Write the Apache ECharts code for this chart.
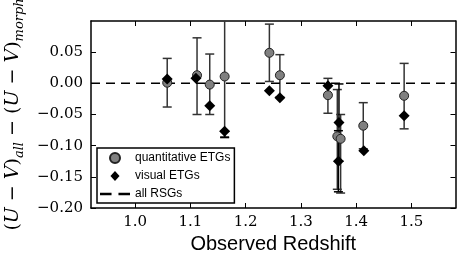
<!DOCTYPE html>
<html>
<head>
<meta charset="utf-8">
<script src="https://cdn.jsdelivr.net/npm/echarts@6/dist/echarts.min.js"></script>
<style>html,body{margin:0;padding:0;background:#fff;}#c{width:457px;height:260px;}</style>
</head>
<body>
<div id="c"></div>
<script>
// ---- data ----
const quantX  = [1.058, 1.112, 1.135, 1.162, 1.243, 1.262, 1.349, 1.366, 1.372, 1.413, 1.487];
const quantY  = [0.001, 0.013, -0.002, 0.011, 0.049, 0.013, -0.019, -0.085, -0.089, -0.068, -0.020];
const quantLo = [-0.038, -0.050, -0.050, -0.086, 0.003, -0.022, -0.048, -0.170, -0.176, -0.105, -0.073];
const quantHi = [0.040, 0.073, 0.047, 0.108, 0.095, 0.046, 0.008, -0.010, -0.050, -0.031, 0.032];

const visX  = [1.058, 1.110, 1.135, 1.162, 1.243, 1.262, 1.349, 1.369, 1.368, 1.414, 1.487];
const visY  = [0.007, 0.008, -0.036, -0.077, -0.012, -0.023, -0.004, -0.063, -0.125, -0.108, -0.052];
const visLo = [null, null, null, -0.087, null, null, null, -0.125, -0.174, null, null];
const visHi = [null, null, null, -0.077, null, null, null, -0.001, -0.076, null, null];

const rsgLevel = 0.0;
const xTicks = [1.0, 1.1, 1.2, 1.3, 1.4, 1.5];
const yTicks = [-0.20, -0.15, -0.10, -0.05, 0.00, 0.05];
const xMin = 0.92, xMax = 1.58, yMin = -0.20, yMax = 0.10;
const seriesNames = ['quantitative ETGs', 'visual ETGs', 'all RSGs'];

// ---- build ----
const quantPts = quantX.map((x, i) => [x, quantY[i]]);
const visPts = visX.map((x, i) => [x, visY[i]]);
const quantErr = quantX.map((x, i) => [x, quantLo[i], quantHi[i]]);
const visErr = visX.map((x, i) => [x, visLo[i], visHi[i]]).filter(d => d[1] !== null);

function errRenderer(color) {
  return function (params, api) {
    const x = api.value(0);
    let lo = api.value(1), hi = api.value(2);
    const capLo = lo >= yMin, capHi = hi <= yMax;
    lo = Math.max(lo, yMin); hi = Math.min(hi, yMax);
    const a = api.coord([x, lo]), b = api.coord([x, hi]);
    const st = { stroke: color, lineWidth: 1.5 };
    const w = 4.5;
    const ch = [{ type: 'line', shape: { x1: a[0], y1: a[1], x2: b[0], y2: b[1] }, style: st }];
    if (capLo) ch.push({ type: 'line', shape: { x1: a[0] - w, y1: a[1], x2: a[0] + w, y2: a[1] }, style: st });
    if (capHi) ch.push({ type: 'line', shape: { x1: b[0] - w, y1: b[1], x2: b[0] + w, y2: b[1] }, style: st });
    return { type: 'group', children: ch };
  };
}

const tickFmt = v => {
  const s = Math.abs(v) < 1e-9 ? '0.00' : v.toFixed(2);
  return s.replace('-', '\u2212');
};

const serif = 'DejaVu Serif';
const axisLineStyle = { color: '#000', width: 1.5 };
const tickStyle = { color: '#000', width: 1 };

const chart = echarts.init(document.getElementById('c'), null, { renderer: 'canvas' });
chart.setOption({
  animation: false,
  backgroundColor: '#fff',
  grid: { left: 91, right: 1.5, top: 21, bottom: 52, outerBoundsMode: 'none', containLabel: false },
  xAxis: [{
    type: 'value', min: xMin, max: xMax, position: 'bottom',
    axisLine: { onZero: false, lineStyle: axisLineStyle },
    axisTick: { inside: true, length: 5, lineStyle: tickStyle, customValues: xTicks },
    axisLabel: { customValues: xTicks, margin: 7, fontFamily: serif, fontSize: 15, color: '#000', formatter: v => v.toFixed(1) },
    splitLine: { show: false },
    name: 'Observed Redshift', nameLocation: 'middle', nameGap: 24,
    nameTextStyle: { fontFamily: 'Liberation Sans', fontSize: 20, color: '#000' }
  }, {
    type: 'value', min: xMin, max: xMax, position: 'top',
    axisLine: { onZero: false, lineStyle: axisLineStyle },
    axisTick: { inside: true, length: 5, lineStyle: tickStyle, customValues: xTicks },
    axisLabel: { show: false }, splitLine: { show: false }
  }],
  yAxis: [{
    type: 'value', min: yMin, max: yMax, position: 'left',
    axisLine: { onZero: false, lineStyle: axisLineStyle },
    axisTick: { inside: true, length: 5, lineStyle: tickStyle, customValues: yTicks },
    axisLabel: { customValues: yTicks, margin: 8, fontFamily: serif, fontSize: 15, color: '#000', formatter: tickFmt },
    splitLine: { show: false },
    name: '{p|(}{i|U}{p| \u2212 }{i|V}{p|)}{s|all}{p| \u2212 (}{i|U}{p| \u2212 }{i|V}{p|)}{s|morph}',
    nameLocation: 'middle', nameGap: 65, nameRotate: 90,
    nameTextStyle: {
      color: '#000',
      rich: {
        p: { fontFamily: serif, fontSize: 19, lineHeight: 25, verticalAlign: 'middle', color: '#000' },
        i: { fontFamily: serif, fontStyle: 'italic', fontSize: 19, lineHeight: 25, verticalAlign: 'middle', color: '#000' },
        s: { fontFamily: serif, fontStyle: 'italic', fontSize: 13, lineHeight: 25, verticalAlign: 'bottom', color: '#000' }
      }
    }
  }, {
    type: 'value', min: yMin, max: yMax, position: 'right',
    axisLine: { onZero: false, lineStyle: axisLineStyle },
    axisTick: { inside: true, length: 5, lineStyle: tickStyle, customValues: yTicks },
    axisLabel: { show: false }, splitLine: { show: false }
  }],
  legend: {
    orient: 'vertical', left: 97, top: 148,
    padding: [4, 4, 3, 3], itemGap: 6, itemWidth: 30, itemHeight: 10,
    borderColor: '#000', borderWidth: 1.5, borderRadius: 0, backgroundColor: '#fff',
    textStyle: { fontFamily: 'Liberation Sans', fontSize: 12, color: '#000' },
    data: [
      { name: seriesNames[0], icon: 'circle' },
      { name: seriesNames[1], icon: 'path://M5,0L10,5.5L5,11L0,5.5Z' },
      { name: seriesNames[2], icon: 'path://M0,0h10v2h-10z M16,0h10v2h-10z' }
    ]
  },
  series: [
    { type: 'custom', xAxisIndex: 0, yAxisIndex: 0, z: 1, silent: true, renderItem: errRenderer('#333'), data: quantErr },
    { type: 'custom', xAxisIndex: 0, yAxisIndex: 0, z: 1, silent: true, renderItem: errRenderer('#000'), data: visErr },
    { name: seriesNames[2], type: 'line', z: 2, symbol: 'none', data: [[xMin, rsgLevel], [xMax, rsgLevel]],
      lineStyle: { color: '#000', width: 1.5, type: [9, 6] }, itemStyle: { color: '#000' } },
    { name: seriesNames[0], type: 'scatter', z: 3, symbol: 'circle', symbolSize: 9, data: quantPts,
      itemStyle: { color: '#808080', borderColor: '#222', borderWidth: 1, opacity: 1 } },
    { name: seriesNames[1], type: 'scatter', z: 4, symbol: 'diamond', symbolSize: 11, data: visPts,
      itemStyle: { color: '#000', opacity: 1 } }
  ]
});
</script>
</body>
</html>
